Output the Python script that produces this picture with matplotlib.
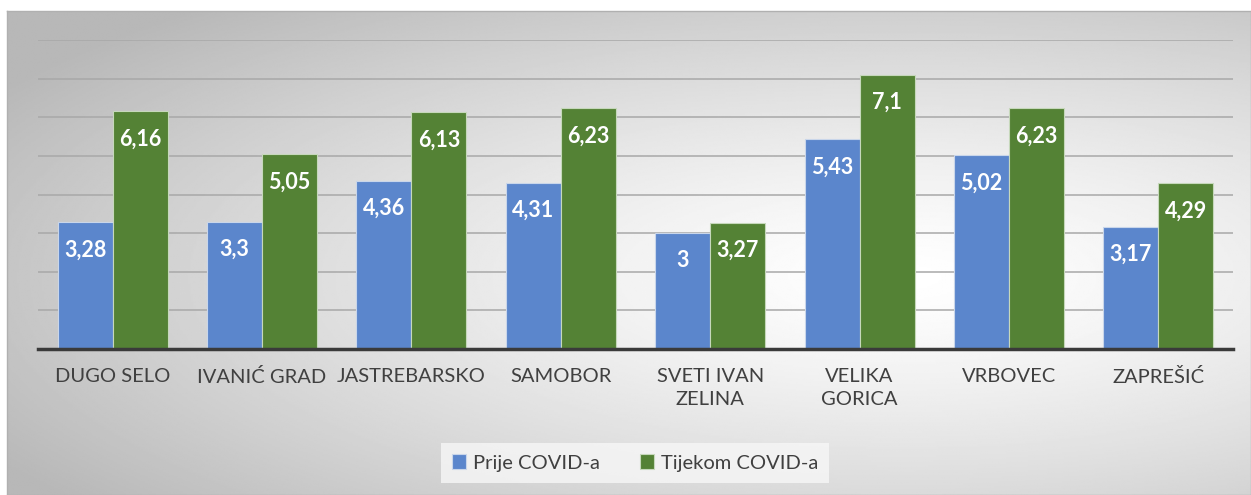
import matplotlib.pyplot as plt
import numpy as np

gradovi = ['DUGO SELO', 'IVANIĆ GRAD', 'JASTREBARSKO', 'SAMOBOR',
           'SVETI IVAN\nZELINA', 'VELIKA\nGORICA', 'VRBOVEC', 'ZAPREŠIĆ']
prije = [3.28, 3.3, 4.36, 4.31, 3, 5.43, 5.02, 3.17]
tijekom = [6.16, 5.05, 6.13, 6.23, 3.27, 7.1, 6.23, 4.29]

plt.rcParams['font.family'] = ['Lato', 'DejaVu Sans']

W, H = 1251, 495
fig = plt.figure(figsize=(W / 100, H / 100), dpi=100)
fig.patch.set_facecolor('white')

# pozadina - radijalni gradijent
bg = fig.add_axes([7 / W, 0, 1 - 7 / W, 484 / H])
yy, xx = np.mgrid[0:1:300j, 0:1:800j]
r = np.sqrt(((xx - 0.72) / 0.85) ** 2 + ((yy - 0.45) / 0.75) ** 2)
r = np.clip(r, 0, 1)
shade = 1.0 - 0.28 * r ** 1.3
bg.imshow(shade, cmap='gray', vmin=0, vmax=1, aspect='auto',
          extent=[0, 1, 0, 1], origin='lower')
bg.set_xticks([])
bg.set_yticks([])
for s in bg.spines.values():
    s.set_color('#b0b0b0')
    s.set_linewidth(1.0)

ax = fig.add_axes([38 / W, 146 / H, 1195 / W, 309 / H])
ax.patch.set_alpha(0)

x = np.arange(len(gradovi))
w = 0.368
b1 = ax.bar(x - w / 2, prije, w, color='#5B86CC', edgecolor='#c9d6ea',
            linewidth=0.8, label='Prije COVID-a', zorder=3)
b2 = ax.bar(x + w / 2, tijekom, w, color='#548235', edgecolor='#c6d8bb',
            linewidth=0.8, label='Tijekom COVID-a', zorder=3)

for bars in (b1, b2):
    for b in bars:
        v = b.get_height()
        txt = ('%g' % v).replace('.', ',')
        ax.annotate(txt, (b.get_x() + b.get_width() / 2, v),
                    xytext=(0, -20), textcoords='offset points',
                    ha='center', va='center', color='white',
                    fontsize=15.5, fontweight='bold', zorder=4)

ax.set_xlim(-0.5, len(gradovi) - 0.5)
ax.set_ylim(0, 8)
ax.set_yticks(np.arange(0, 9, 1))
ax.yaxis.grid(True, color='#a8a8a8', linewidth=1.1, zorder=0)
ax.set_axisbelow(True)
ax.tick_params(axis='y', left=False, labelleft=False)
ax.tick_params(axis='x', length=0, pad=14)
ax.set_xticks(x)
ax.set_xticklabels(gradovi, fontsize=14.5, color='#404040', va='top',
                   linespacing=1.4)
for s in ['top', 'right', 'left']:
    ax.spines[s].set_visible(False)
ax.spines['bottom'].set_color('#3a3a3a')
ax.spines['bottom'].set_linewidth(2.5)
ax.spines['bottom'].set_zorder(5)

leg = fig.legend(handles=[b1, b2], loc='center', bbox_to_anchor=(635 / W, 1 - 463 / H),
                 ncol=2, frameon=True, fontsize=14.5, handlelength=0.7,
                 handleheight=0.7, handletextpad=0.35, columnspacing=2.0,
                 borderpad=0.55, borderaxespad=0, fancybox=False)
leg.get_frame().set_facecolor('#f7f7f7')
leg.get_frame().set_edgecolor('none')
for t in leg.get_texts():
    t.set_color('#404040')

plt.savefig('out.png', dpi=100)
